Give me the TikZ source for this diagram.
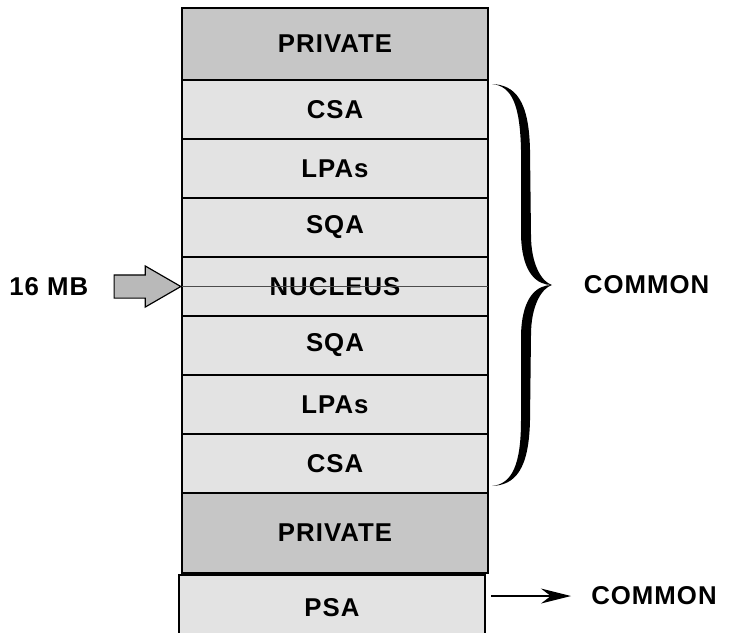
\documentclass[tikz,border=0pt]{standalone}
\usepackage{fontspec}
\setmainfont[LetterSpace=4]{Liberation Sans}
\usetikzlibrary{positioning,shapes.arrows,arrows.meta}

\tikzset{
  seg/.style={draw, line width=1.2pt, fill=gray!22, minimum width=9.18cm,
    minimum height=1.77cm, inner sep=0pt, outer sep=0pt,
    font=\fontsize{22}{24}\selectfont\bfseries},
  privseg/.style={seg, fill=gray!45},
  lbl/.style={font=\fontsize{22}{24}\selectfont\bfseries, inner sep=0pt},
  mbarrow/.style={single arrow, draw, line width=1pt, fill=gray!55,
    minimum height=2cm, inner sep=0pt,
    single arrow head extend=0.27cm, single arrow tip angle=60}
}

\begin{document}
\begin{tikzpicture}[x=0.03cm, y=-0.03cm]
    \useasboundingbox (0,0) rectangle (731,632);

    % the storage column
    \node[privseg, minimum height=2.16cm] (private1) at (335,44) {PRIVATE};
    \node[seg, below=0pt of private1] (csa1) {CSA};
    \node[seg, below=0pt of csa1] (lpas1) {LPAs};
    \node[seg, below=0pt of lpas1] (sqa1) {SQA};
    \node[seg, below=0pt of sqa1] (nucleus) {NUCLEUS};
    \node[seg, below=0pt of nucleus] (sqa2) {SQA};
    \node[seg, below=0pt of sqa2] (lpas2) {LPAs};
    \node[seg, below=0pt of lpas2] (csa2) {CSA};
    \node[privseg, minimum height=2.4cm, below=0pt of csa2] (private2) {PRIVATE};
    \node[seg, minimum height=1.98cm, below=0.06cm of private2, xshift=-0.09cm] (psa) {PSA};

    % 16 MB line
    \draw[gray!60!black, line width=0.5pt] (nucleus.west) -- (nucleus.east);
    \node[mbarrow, anchor=tip] (mbarrow) at (nucleus.west) {\rule{0pt}{0.66cm}};
    \node[lbl, left=0.75cm of mbarrow.tail] (mb16) {16 MB};

    % brace
    \coordinate (bracetip) at (552,285);
    \fill (492,84) .. controls (515,85) and (529,100) .. (530,150)
        -- (531,235) .. controls (531,265) and (542,282) .. (bracetip)
        .. controls (542,288) and (531,305) .. (531,335)
        -- (530,420) .. controls (529,470) and (515,485) .. (492,486)
        .. controls (512,484) and (521,465) .. (521,420)
        -- (521,335) .. controls (522,295) and (538,285) .. (bracetip)
        .. controls (538,285) and (522,275) .. (521,235)
        -- (521,150) .. controls (520,105) and (512,86) .. (492,84) -- cycle;
    \node[lbl, right=0.95cm of bracetip] (common1) {COMMON};

    % PSA arrow
    \coordinate (psaout) at ([xshift=0.18cm, yshift=0.36cm]psa.east);
    \node[lbl, anchor=west] (common2) at ([xshift=3cm]psaout) {COMMON};
    \draw[-{Stealth[length=0.9cm, width=0.45cm]}, line width=1.2pt, shorten >=0.6cm]
        (psaout) -- (common2.west);
\end{tikzpicture}
\end{document}
